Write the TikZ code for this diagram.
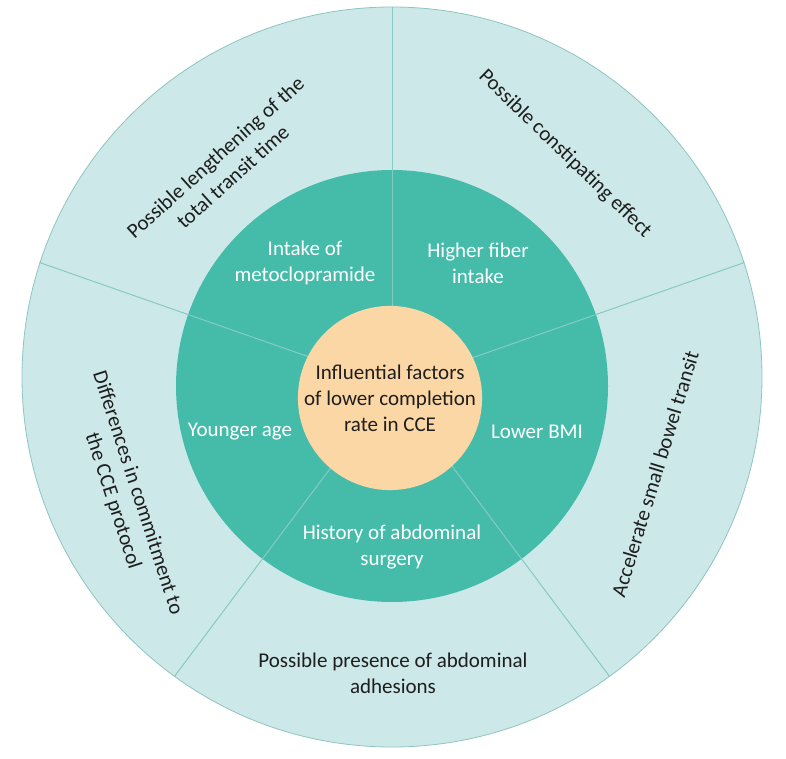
\documentclass[tikz,border=0pt]{standalone}
\usepackage{fontspec}
\setmainfont{Carlito}
\definecolor{pale}{HTML}{CDE8E8}
\definecolor{ringc}{HTML}{45BCAA}
\definecolor{corec}{HTML}{FCD7A6}
\definecolor{divline}{HTML}{86CBC3}
\definecolor{rim}{HTML}{8DC5C2}
\definecolor{ink}{HTML}{1E1E1E}
\begin{document}
\begin{tikzpicture}[x=1pt,y=-1pt,
  lbl/.style={font=\fontsize{21}{26}\selectfont, align=center, inner sep=0pt},
  darklbl/.style={lbl, text=ink},
  whitelbl/.style={lbl, text=white},
  divider/.style={draw=divline, line width=1pt}]
\useasboundingbox (0,0) rectangle (786,759);
\fill[white] (0,0) rectangle (786,759);
\node[circle, draw=rim, line width=0.8pt, fill=pale, minimum size=740pt, inner sep=0pt] (outer) at (392,377) {};
\node[circle, fill=ringc, minimum size=432pt, inner sep=0pt] (mid) at (392,386) {};
\foreach \a in {90,162,234,306,18}
  \draw[divider] (mid.center) -- (outer.\a);
\node[circle, fill=corec, minimum size=182pt, darklbl] (core) at (390,398) {Influential factors\\of lower completion\\rate in CCE};
% inner ring
\node[whitelbl] (f1) at (305,263) {Intake of\\metoclopramide};
\node[whitelbl] (f2) at (478,263) {Higher fiber\\intake};
\node[whitelbl] (f3) at (240,432) {Younger age};
\node[whitelbl] (f4) at (537,432) {Lower BMI};
\node[whitelbl] (f5) at (392,547) {History of abdominal\\surgery};
% outer ring
\node[darklbl, rotate=42] (e1) at (224,167) {Possible lengthening of the\\total transit time};
\node[darklbl, rotate=-44] (e2) at (565,154) {Possible constipating effect};
\node[darklbl, rotate=-72] (e3) at (125,497) {Differences in commitment to\\the CCE protocol};
\node[darklbl, rotate=73] (e4) at (655,474) {Accelerate small bowel transit};
\node[darklbl] (e5) at (393,673) {Possible presence of abdominal\\adhesions};
\end{tikzpicture}
\end{document}
